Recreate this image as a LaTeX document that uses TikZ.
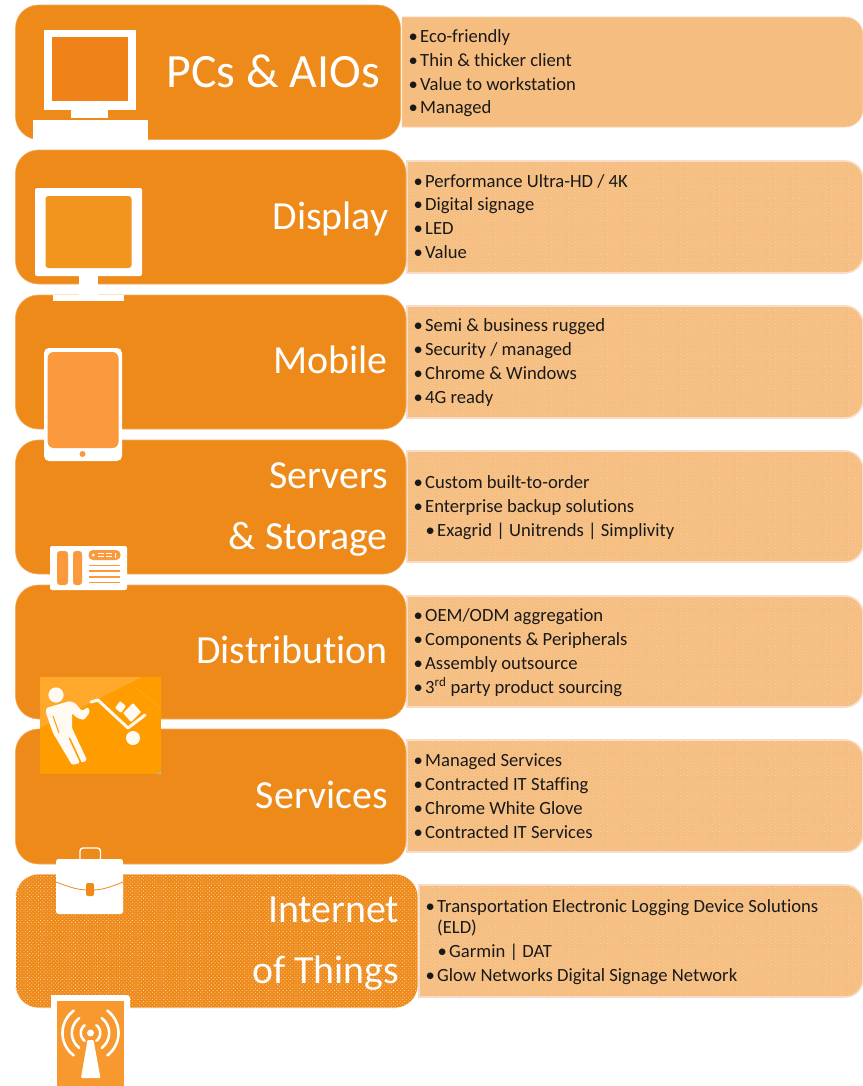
\documentclass[tikz,border=0pt]{standalone}
\usepackage{fontspec}
\setmainfont[Ligatures=CommonOff]{Carlito}
\usetikzlibrary{patterns.meta}
\definecolor{mainor}{HTML}{EE8A1A}
\definecolor{lightor}{HTML}{F5BE80}
\definecolor{dotor}{HTML}{FBD9B4}
\definecolor{edgeor}{HTML}{F9DCC8}
\definecolor{screenA}{HTML}{F2951F}
\definecolor{screenB}{HTML}{FA9A3C}
\definecolor{screenC}{HTML}{F7992F}
\definecolor{imgor}{HTML}{FF9C00}
\definecolor{imghi}{HTML}{FFA82C}
\definecolor{figw}{HTML}{FFFAF2}
\tikzset{
  x=1bp,y=-1bp,
  rowbox/.style={fill=mainor,draw=mainor!70!white,line width=.6bp,rounded corners=23bp},
  rowtex/.style={rowbox,draw=white,postaction={pattern={Dots[radius=.55bp,distance=2.6bp,angle=45]},pattern color=dotor}},
  plainpanel/.style={fill=lightor,draw=lightor!70!white,line width=.8bp},
  texpanel/.style={fill=lightor,draw=edgeor,line width=1.6bp,postaction={pattern={Dots[radius=.45bp,distance=2.4bp,angle=45]},pattern color=dotor}},
  titletext/.style={anchor=base east,inner sep=0pt,text=white,font=\fontsize{40}{40}\selectfont},
  itemtext/.style={anchor=base west,inner sep=0pt,text=black!90,font=\fontsize{18.7}{20}\selectfont},
  ic/.style={fill=white,draw=none},
  icl/.style={draw=white,line cap=round,line join=round},
}
\newcommand{\panelshape}[4]{\path[#1] (#2,#3) [rounded corners=18bp] -- (863,#3) -- (863,#4) [sharp corners] -- (#2,#4) -- cycle;}
\newcommand{\itemline}[4]{\node[itemtext] (#1) at (#2,#3) {\llap{\textbullet\hspace{2.4bp}}#4};}
\newcommand{\titleline}[4]{\node[titletext] (#1) at (#2,#3) {#4};}
\begin{document}
\begin{tikzpicture}
\useasboundingbox (0,0) rectangle (863,1086);
\fill[white] (0,0) rectangle (863,1086);
% right panels
\panelshape{plainpanel}{402}{17}{127}
\panelshape{texpanel}{407}{161}{273}
\panelshape{texpanel}{407}{306}{418}
\panelshape{texpanel}{407}{451}{562}
\panelshape{texpanel}{407}{596}{707}
\panelshape{texpanel}{407}{740}{852}
\panelshape{texpanel}{419}{885}{997}
% left boxes
\path[rowbox] (15.5,5) rectangle (400.5,139.5);
\path[rowbox] (15.5,150) rectangle (406,284);
\path[rowbox] (15.5,295) rectangle (406,429);
\path[rowbox] (15.5,440) rectangle (406,574);
\path[rowbox] (15.5,585) rectangle (406,719);
\path[rowbox] (15.5,729) rectangle (406,864);
\path[rowtex] (15.5,874) rectangle (418,1008);
% PC icon
\fill[ic] (44,30) rectangle (136,110);
\fill[mainor!95!red] (52,37) rectangle (128,101);
\fill[ic] (71,110) rectangle (108,118);
\fill[ic] (33,120) rectangle (148,140);
% Display icon
\path[ic,rounded corners=2bp] (35,188) rectangle (142,276);
\path[fill=screenA,rounded corners=3bp] (45.5,196) rectangle (131.5,268);
\fill[ic] (79,276) rectangle (98,296);
\fill[ic] (53,295) rectangle (124,301);
% Tablet icon
\path[ic,rounded corners=5bp] (44,348) rectangle (122,461);
\path[fill=screenB,rounded corners=6bp] (47.7,352) rectangle (118.5,448);
\fill[screenB] (82.5,454) circle[radius=3bp];
% Server icon
\path[ic,rounded corners=2bp] (50,546) rectangle (127,590);
\path[fill=screenB,rounded corners=3bp] (57,551) rectangle (68,585);
\path[fill=screenB,rounded corners=3bp] (73,551) rectangle (82,585);
\path[fill=screenB,rounded corners=4.5bp] (88.5,550) rectangle (120.5,560);
\fill[white] (93.3,555) circle[radius=1.6bp];
\foreach \yy in {553.4,556.6}{\draw[white,line width=.9bp] (98,\yy) -- (104,\yy) (106,\yy) -- (112,\yy);}
\draw[white,line width=.9bp] (115,552.5) -- (115,557.5);
\foreach \yy in {565.5,571,577,582.5}{\draw[screenB,line width=1.6bp] (89,\yy) -- (120,\yy);}
% Distribution image
\fill[imgor] (40,677) rectangle (161,774);
\fill[imghi] (40,677) -- (142,677) -- (40,728) -- cycle;
\draw[imghi,line width=.6bp] (135,687) -- (160,708);
\fill[black!30] (157,774) -- (161,774) -- (161,771) -- cycle;
\fill[figw] (56,695) circle[radius=7.6bp];
\path[fill=figw,rounded corners=1.5bp] (46,708) -- (70,701) -- (75,703) -- (82,711) -- (88,707) -- (90,712) -- (84,720) -- (77,718) -- (72,713) -- (72,728) -- (87,760) -- (82,763) -- (70,737) -- (68,737) -- (80,763) -- (72,765) -- (53,733) -- (46,713) -- cycle;
\draw[imgor,line width=1bp] (53,716) -- (59,733);
\draw[figw,line width=3bp,line cap=round,line join=round] (91,702) -- (98,700) -- (128,728) -- (145,715);
\fill[figw] (133,738) circle[radius=7bp];
\path[fill=figw,rounded corners=1bp] (120,701) -- (126,706) -- (121,713) -- (115,708) -- cycle;
\path[fill=figw,rounded corners=1bp] (133,703) -- (141,712) -- (131,722) -- (123,713) -- cycle;
% Briefcase icon
\path[draw=white,line width=1.4bp,rounded corners=3bp] (80,860) -- (80,848) -- (100.5,848) -- (100.5,860);
\path[ic,rounded corners=2.5bp] (56,859) rectangle (123,914);
\draw[mainor,line width=.8bp] (56,882) .. controls (72,888) and (78,890) .. (90,890) .. controls (102,890) and (108,888) .. (123,882);
\path[fill=mainor,rounded corners=2bp] (86,883) rectangle (94,896);
% IoT icon
\path[ic,rounded corners=3bp] (51,995) -- (130,995) -- (130,1086) [sharp corners] -- (51,1086) -- cycle;
\fill[screenC] (57,1001) rectangle (124,1086);
\fill[white] (90.5,1033) circle[radius=3.5bp];
\path[fill=white,rounded corners=1bp] (87.5,1040) -- (93.5,1040) -- (100.5,1078) -- (81,1078) -- cycle;
\draw[icl,line width=2.6bp] plot[domain=-53:53,samples=24] ({90.5-9.7*cos(\x)},{1033+9.7*sin(\x)});
\draw[icl,line width=2.6bp] plot[domain=-53:53,samples=24] ({90.5+9.7*cos(\x)},{1033+9.7*sin(\x)});
\draw[icl,line width=2.6bp] plot[domain=-53:53,samples=24] ({90.5-18.6*cos(\x)},{1033+18.6*sin(\x)});
\draw[icl,line width=2.6bp] plot[domain=-53:53,samples=24] ({90.5+18.6*cos(\x)},{1033+18.6*sin(\x)});
\draw[icl,line width=2.6bp] plot[domain=-53:53,samples=24] ({90.5-28*cos(\x)},{1033+28*sin(\x)});
\draw[icl,line width=2.6bp] plot[domain=-53:53,samples=24] ({90.5+28*cos(\x)},{1033+28*sin(\x)});
% titles
\node[titletext,font=\fontsize{48}{48}\selectfont] (tPC) at (380,87) {PCs \& AIOs};
\titleline{tDisp}{388.5}{229}{Display}
\titleline{tMob}{388}{373}{Mobile}
\titleline{tSrvA}{388}{488}{Servers}
\titleline{tSrvB}{388}{549}{\& Storage}
\titleline{tDist}{388}{663}{Distribution}
\titleline{tServ}{388}{808}{Services}
\titleline{tIoTA}{399.5}{922}{Internet}
\titleline{tIoTB}{399.5}{983}{of Things}
% items
\itemline{a1}{420}{42}{Eco-friendly}
\itemline{a2}{420}{66}{Thin \& thicker client}
\itemline{a3}{420}{90}{Value to workstation}
\itemline{a4}{420}{113}{Managed}
\itemline{b1}{425}{187}{Performance Ultra-HD / 4K}
\itemline{b2}{425}{210}{Digital signage}
\itemline{b3}{425}{234}{LED}
\itemline{b4}{425}{258}{Value}
\itemline{c1}{425}{331}{Semi \& business rugged}
\itemline{c2}{425}{355}{Security / managed}
\itemline{c3}{425}{379}{Chrome \& Windows}
\itemline{c4}{425}{403}{4G ready}
\itemline{d1}{425}{488}{Custom built-to-order}
\itemline{d2}{425}{512}{Enterprise backup solutions}
\itemline{d3}{437}{536}{Exagrid | Unitrends | Simplivity}
\itemline{e1}{425}{621}{OEM/ODM aggregation}
\itemline{e2}{425}{645}{Components \& Peripherals}
\itemline{e3}{425}{669}{Assembly outsource}
\itemline{e4}{425}{693}{3\textsuperscript{rd} party product sourcing}
\itemline{f1}{425}{766}{Managed Services}
\itemline{f2}{425}{790}{Contracted IT Staffing}
\itemline{f3}{425}{814}{Chrome White Glove}
\itemline{f4}{425}{838}{Contracted IT Services}
\itemline{g1}{437}{912}{Transportation Electronic Logging Device Solutions}
\node[itemtext] (g1b) at (437,933) {(ELD)};
\itemline{g2}{449}{957}{Garmin | DAT}
\itemline{g3}{437}{981}{Glow Networks Digital Signage Network}
\end{tikzpicture}
\end{document}
